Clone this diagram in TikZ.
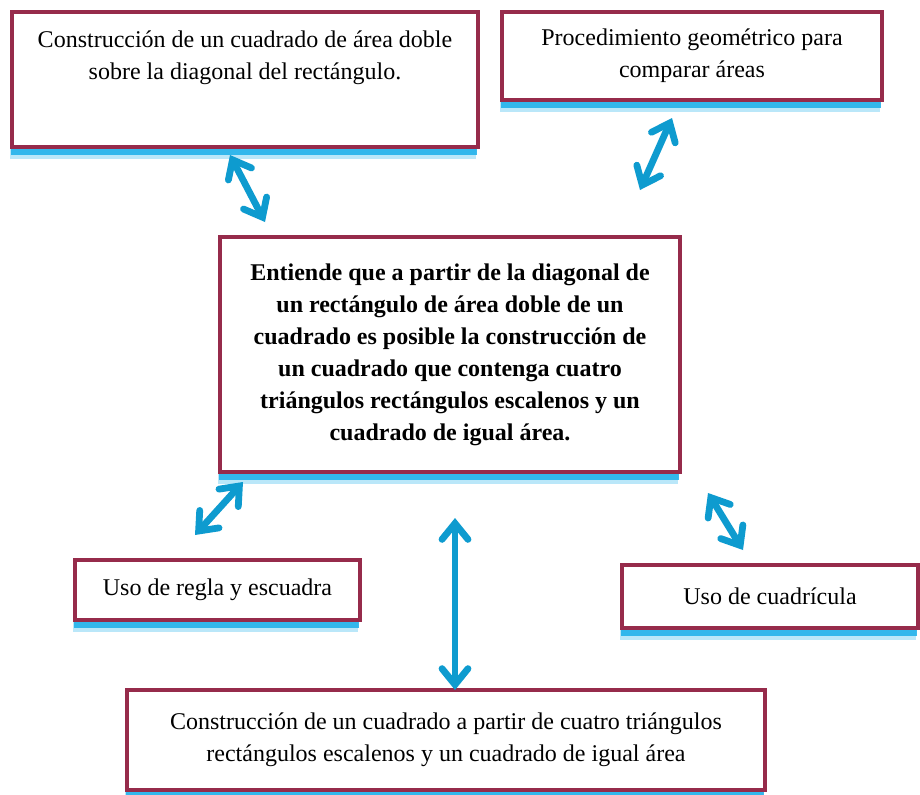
\documentclass[tikz,border=0pt]{standalone}
\usepackage{fontspec}
\setmainfont{Liberation Serif}
\usetikzlibrary{arrows.meta,shadows}
\definecolor{boxred}{HTML}{962B4B}
\definecolor{glow}{HTML}{1AAEEA}
\definecolor{linkblue}{HTML}{0E9BCF}

\begin{document}
\begin{tikzpicture}[
    x=0.5pt, y=-0.5pt,
    card/.style={draw=boxred, line width=1.8pt, fill=white, align=center, inner sep=0pt,
        font=\fontsize{12}{16}\selectfont,
        drop shadow={shadow xshift=-1pt, shadow yshift=-6pt, fill=glow, opacity=0.3},
        drop shadow={shadow xshift=-0.5pt, shadow yshift=-4pt, fill=glow, opacity=0.85}},
    >={Straight Barb[length=8pt, width=13pt, line cap=round]},
    link/.style={<->, line width=3.4pt, draw=linkblue, line cap=round}
]
    \useasboundingbox (0,0) rectangle (920,794);

    \node[card, minimum width=233pt, minimum height=67.5pt] (diag) at (245,79.5)
        {Construcción de un cuadrado de área doble\\sobre la diagonal del rectángulo.\\[8pt]\mbox{}};
    \node[card, minimum width=190pt, minimum height=44pt] (proc) at (692,56)
        {Procedimiento geométrico para\\comparar áreas};
    \node[card, minimum width=230pt, minimum height=117.5pt, font=\fontsize{12}{16}\selectfont\bfseries] (main) at (450,354.5)
        {Entiende que a partir de la diagonal de\\un rectángulo de área doble de un\\cuadrado es posible la construcción de\\un cuadrado que contenga cuatro\\triángulos rectángulos escalenos y un\\cuadrado de igual área.};
    \node[card, minimum width=142.5pt, minimum height=30pt] (regla) at (217.5,590)
        {Uso de regla y escuadra};
    \node[card, minimum width=148pt, minimum height=31.5pt] (cuad) at (770,596.5)
        {Uso de cuadrícula};
    \node[card, minimum width=319pt, minimum height=50pt] (cons) at (446,740)
        {Construcción de un cuadrado a partir de cuatro triángulos\\rectángulos escalenos y un cuadrado de igual área};

    \coordinate (diagEnd) at (230,155);
    \coordinate (mainA) at (265,222);
    \coordinate (procEnd) at (672,118);
    \coordinate (mainB) at (640,190);
    \coordinate (mainC) at (243,482);
    \coordinate (reglaEnd) at (195,535);
    \coordinate (mainD) at (708,493);
    \coordinate (cuadEnd) at (743,550);
    \coordinate (mainE) at (455,518);
    \coordinate (consEnd) at (455,690);

    \draw[link] (diagEnd) -- (mainA);
    \draw[link] (procEnd) -- (mainB);
    \draw[link] (mainC) -- (reglaEnd);
    \draw[link] (mainD) -- (cuadEnd);
    \draw[link] (mainE) -- (consEnd);
\end{tikzpicture}
\end{document}
